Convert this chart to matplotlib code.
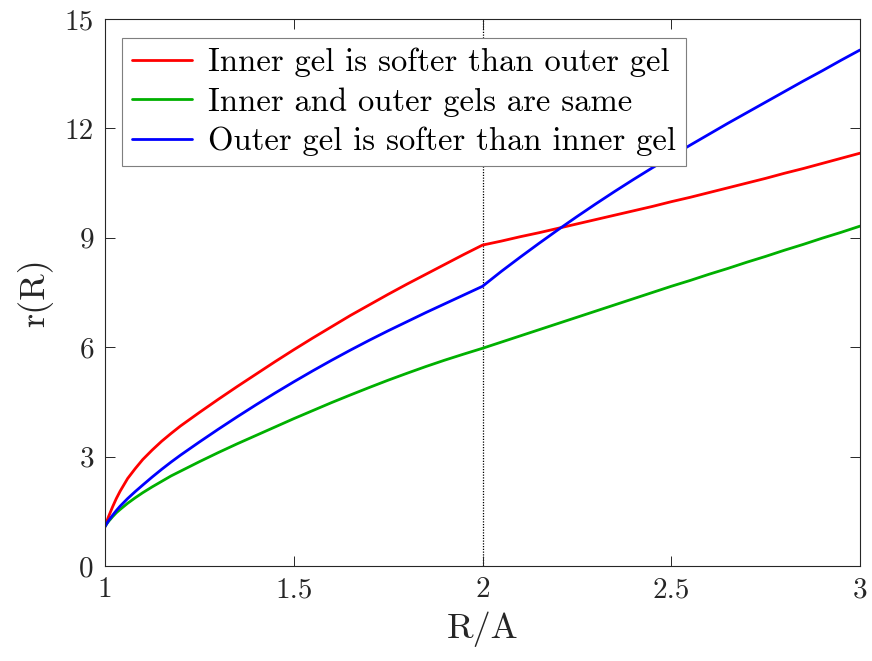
import numpy as np
import matplotlib
matplotlib.use("Agg")
import matplotlib.pyplot as plt
from matplotlib.ticker import FixedLocator, FixedFormatter

plt.rcParams["font.family"] = ["cmr10", "DejaVu Serif"]
plt.rcParams["mathtext.fontset"] = "cm"
plt.rcParams["axes.formatter.use_mathtext"] = True

# Normalised radius R/A, inside (R/A <= 2) and outside (R/A >= 2) the interface
R_left = [1.0, 1.005, 1.01, 1.02, 1.03, 1.04, 1.06, 1.08, 1.1, 1.125, 1.15,
          1.175, 1.2, 1.25, 1.3, 1.35, 1.4, 1.45, 1.5, 1.55, 1.6, 1.65, 1.7,
          1.75, 1.8, 1.85, 1.9, 1.95, 2.0]
R_right = [2.0, 2.05, 2.1, 2.15, 2.2, 2.25, 2.3, 2.35, 2.4, 2.45, 2.5, 2.55,
           2.6, 2.65, 2.7, 2.75, 2.8, 2.85, 2.9, 2.95, 3.0]

# Deformed radius r(R): inner gel softer than outer gel
r_inner_soft_left = [1.08, 1.23, 1.37, 1.62, 1.85, 2.05, 2.40, 2.67, 2.92, 3.18,
                     3.42, 3.635, 3.84, 4.21, 4.57, 4.92, 5.26, 5.60, 5.93, 6.25,
                     6.56, 6.87, 7.16, 7.45, 7.73, 8.00, 8.27, 8.54, 8.80]
r_inner_soft_right = [8.80, 8.91, 9.03, 9.14, 9.26, 9.38, 9.50, 9.62, 9.74,
                      9.86, 9.99, 10.11, 10.24, 10.37, 10.50, 10.63, 10.77,
                      10.90, 11.04, 11.18, 11.32]

# Inner and outer gels identical
r_same_left = [1.08, 1.16, 1.23, 1.35, 1.46, 1.55, 1.72, 1.87, 2.01, 2.17, 2.32,
               2.47, 2.60, 2.86, 3.11, 3.35, 3.58, 3.81, 4.04, 4.26, 4.48, 4.69,
               4.895, 5.095, 5.285, 5.47, 5.645, 5.81, 5.97]
r_same_right = [5.97, 6.14, 6.31, 6.48, 6.65, 6.82, 6.99, 7.16, 7.33, 7.50,
                7.67, 7.83, 8.00, 8.16, 8.33, 8.49, 8.66, 8.82, 8.99, 9.15, 9.32]

# Outer gel softer than inner gel
r_outer_soft_left = [1.08, 1.17, 1.25, 1.39, 1.52, 1.64, 1.85, 2.04, 2.22, 2.44,
                     2.65, 2.85, 3.04, 3.40, 3.75, 4.09, 4.42, 4.74, 5.05, 5.35,
                     5.64, 5.92, 6.19, 6.45, 6.70, 6.95, 7.19, 7.43, 7.67]
r_outer_soft_right = [7.67, 8.08, 8.47, 8.85, 9.22, 9.58, 9.93, 10.27, 10.60,
                      10.92, 11.23, 11.54, 11.84, 12.14, 12.43, 12.72, 13.01,
                      13.30, 13.58, 13.87, 14.15]

interface = 2.0

labels = ["Inner gel is softer than outer gel",
          "Inner and outer gels are same",
          "Outer gel is softer than inner gel"]
colors = ["#ff0000", "#00b000", "#0000ff"]

x_ticks = [1, 1.5, 2, 2.5, 3]
x_tick_labels = ["1", "1.5", "2", "2.5", "3"]
y_ticks = [0, 3, 6, 9, 12, 15]
y_tick_labels = ["0", "3", "6", "9", "12", "15"]

fig = plt.figure(figsize=(8.72, 6.61), dpi=100)
ax = fig.add_axes([105 / 872, 1 - 566 / 661, 755 / 872, 547 / 661])

series = [
    (r_inner_soft_left, r_inner_soft_right),
    (r_same_left, r_same_right),
    (r_outer_soft_left, r_outer_soft_right),
]
for (yl, yr), c, lab in zip(series, colors, labels):
    xs = R_left + R_right[1:]
    ys = yl + yr[1:]
    ax.plot(xs, ys, color=c, lw=2.0, label=lab, solid_joinstyle="round",
            solid_capstyle="round")

ax.axvline(interface, color="black", lw=0.9, ls=(0, (1, 1.2)), zorder=0)

ax.set_xlim(1, 3)
ax.set_ylim(0, 15)
ax.xaxis.set_major_locator(FixedLocator(x_ticks))
ax.xaxis.set_major_formatter(FixedFormatter(x_tick_labels))
ax.yaxis.set_major_locator(FixedLocator(y_ticks))
ax.yaxis.set_major_formatter(FixedFormatter(y_tick_labels))

axis_col = "#262626"
for s in ax.spines.values():
    s.set_color(axis_col)
    s.set_linewidth(0.8)
ax.tick_params(direction="in", top=True, right=True, length=7, width=0.7,
               color=axis_col, labelsize=21, labelcolor=axis_col, pad=8)

ax.set_xlabel("R/A", fontsize=26, color=axis_col, labelpad=6)
ax.set_ylabel("r(R)", fontsize=26, color=axis_col, labelpad=8)

leg = ax.legend(loc="upper left", bbox_to_anchor=(0.0225, 0.965),
                borderaxespad=0, fontsize=23.5, frameon=True, fancybox=False,
                framealpha=1, edgecolor="#7f7f7f", handlelength=1.85,
                handletextpad=0.5, borderpad=0.3, labelspacing=0.3)
leg.get_frame().set_linewidth(0.8)

fig.savefig("out.png", dpi=100)
